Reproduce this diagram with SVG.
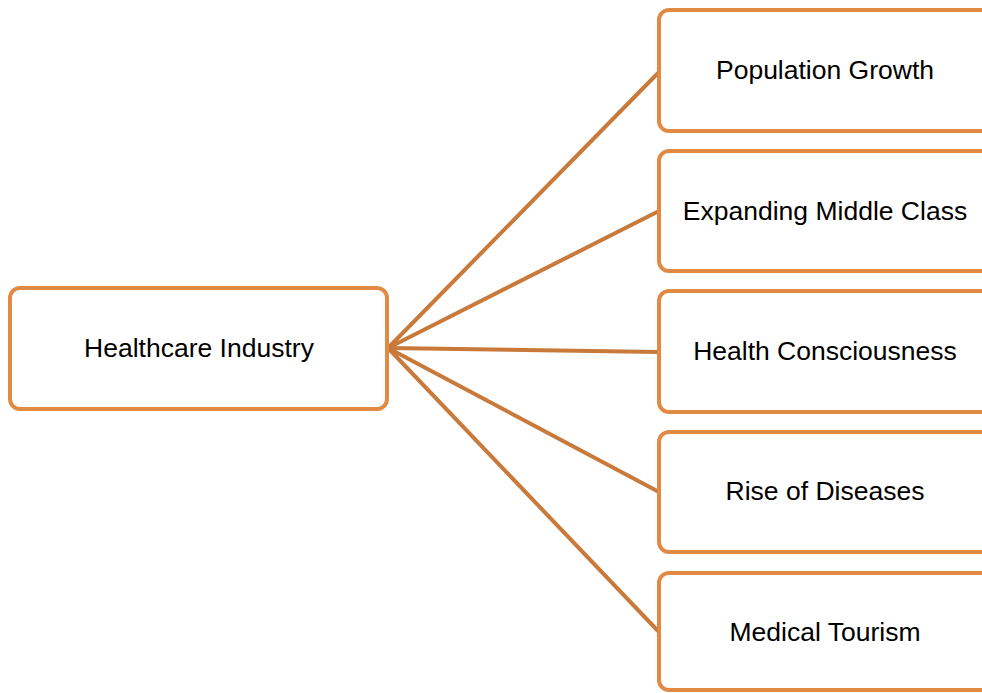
<svg xmlns="http://www.w3.org/2000/svg" width="982" height="693" viewBox="0 0 982 693">
<style>
.box{fill:#fff;stroke:#E08A43;stroke-width:4}
.lbl{font-family:"Liberation Sans",Arial,sans-serif;font-size:26.5px;fill:#000;text-anchor:middle;dominant-baseline:central}
.conn{stroke:#C97A3A;stroke-width:4;fill:none}
</style>
<rect width="982" height="693" fill="#fff"/>
<g id="connectors">
<line class="conn" x1="388" y1="348" x2="659" y2="72"/>
<line class="conn" x1="388" y1="348" x2="659" y2="211"/>
<line class="conn" x1="388" y1="348" x2="659" y2="352"/>
<line class="conn" x1="388" y1="348" x2="659" y2="492"/>
<line class="conn" x1="388" y1="348" x2="659" y2="632"/>
</g>
<g id="healthcare">
<rect class="box" x="10" y="288" width="377" height="121" rx="10"/>
<text class="lbl" x="199" y="348">Healthcare Industry</text>
</g>
<g id="population">
<rect class="box" x="659" y="10" width="335" height="121" rx="10"/>
<text class="lbl" x="825" y="70">Population Growth</text>
</g>
<g id="middleclass">
<rect class="box" x="659" y="151" width="335" height="120" rx="10"/>
<text class="lbl" x="825" y="211">Expanding Middle Class</text>
</g>
<g id="consciousness">
<rect class="box" x="659" y="291" width="335" height="121" rx="10"/>
<text class="lbl" x="825" y="351">Health Consciousness</text>
</g>
<g id="diseases">
<rect class="box" x="659" y="432" width="335" height="120" rx="10"/>
<text class="lbl" x="825" y="491">Rise of Diseases</text>
</g>
<g id="tourism">
<rect class="box" x="659" y="573" width="335" height="117" rx="10"/>
<text class="lbl" x="825" y="632">Medical Tourism</text>
</g>
</svg>
